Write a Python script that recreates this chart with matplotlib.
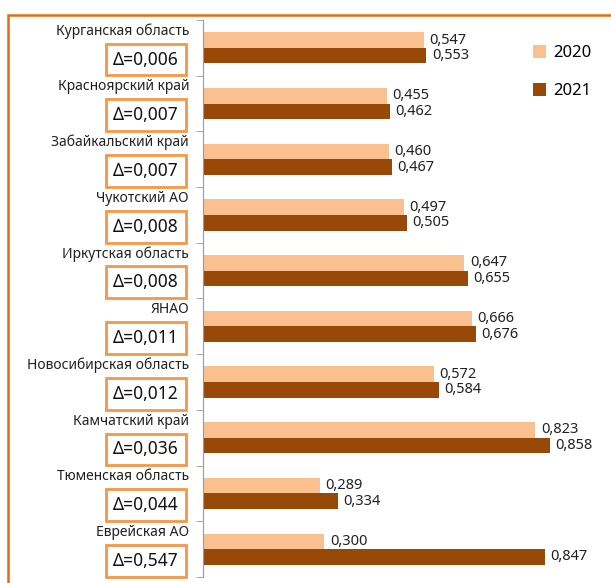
import matplotlib.pyplot as plt
import matplotlib.transforms as mtransforms
from matplotlib.patches import Rectangle
import numpy as np

# данные
regions = ["Курганская область", "Красноярский край", "Забайкальский край",
           "Чукотский АО", "Иркутская область", "ЯНАО",
           "Новосибирская область", "Камчатский край",
           "Тюменская область", "Еврейская АО"]
deltas = ["0,006", "0,007", "0,007", "0,008", "0,008", "0,011",
          "0,012", "0,036", "0,044", "0,547"]
values_2020 = [0.547, 0.455, 0.460, 0.497, 0.647, 0.666, 0.572, 0.823, 0.289, 0.300]
values_2021 = [0.553, 0.462, 0.467, 0.505, 0.655, 0.676, 0.584, 0.858, 0.334, 0.847]
series = ["2020", "2021"]

c2020 = "#FAC090"
c2021 = "#984807"
frame_color = "#E46C0A"
box_color = "#F79646"

plt.rcParams["font.family"] = ["Noto Sans", "DejaVu Sans"]

W, H = 611, 583
fig = plt.figure(figsize=(W / 100, H / 100), dpi=100)
ax = fig.add_axes([203 / W, 1 - 577 / H, (W - 203) / W, (577 - 20) / H])

y = np.arange(len(regions))
h = 0.28
ax.barh(y - h / 2, values_2020, h, color=c2020, label=series[0])
ax.barh(y + h / 2, values_2021, h, color=c2021, label=series[1])

for yi, v in zip(y - h / 2, values_2020):
    ax.annotate(f"{v:.3f}".replace(".", ","), (v, yi), xytext=(4, 0),
                textcoords="offset points", va="center", fontsize=10.5, color="#222222")
for yi, v in zip(y + h / 2, values_2021):
    ax.annotate(f"{v:.3f}".replace(".", ","), (v, yi), xytext=(4, 0),
                textcoords="offset points", va="center", fontsize=10.5, color="#222222")

ax.set_ylim(len(regions) - 0.5, -0.5)
ax.set_xlim(0, (W - 203) / 404)

for s in ["top", "right", "bottom"]:
    ax.spines[s].set_visible(False)
ax.spines["left"].set_color("#9A9A9A")
ax.set_xticks([])
ax.set_yticks([])
ax.set_yticks(np.arange(-0.5, len(regions)), minor=True)
ax.tick_params(axis="y", which="minor", length=5, color="#9A9A9A", direction="out")
ax.set_yticklabels([], minor=True)

# подписи регионов и дельты
trans = mtransforms.blended_transform_factory(fig.transFigure, ax.transData)
for i, (name, d) in enumerate(zip(regions, deltas)):
    ax.text(189 / W, i - 0.3, name, transform=trans, ha="right", va="center",
            fontsize=10, color="#222222", clip_on=False)
    ax.text(146 / W, i + 0.21, "\u0394=" + d, transform=trans, ha="center", va="center",
            fontsize=12.5, color="#111111", clip_on=False,
            bbox=dict(boxstyle="square,pad=0.4", fc="white", ec=box_color, lw=2))

ax.legend(loc="upper left", bbox_to_anchor=(518 / W, 1 - 30 / H), bbox_transform=fig.transFigure,
          frameon=False, fontsize=12, handlelength=0.8, handleheight=0.8,
          labelspacing=1.3, handletextpad=0.4)

# рамка
fig.patches.append(Rectangle((8 / W, -0.05), 1.2, 1 - 15 / H + 0.05, transform=fig.transFigure,
                             fill=False, ec=frame_color, lw=1.8))

fig.savefig("out.png", dpi=100)
